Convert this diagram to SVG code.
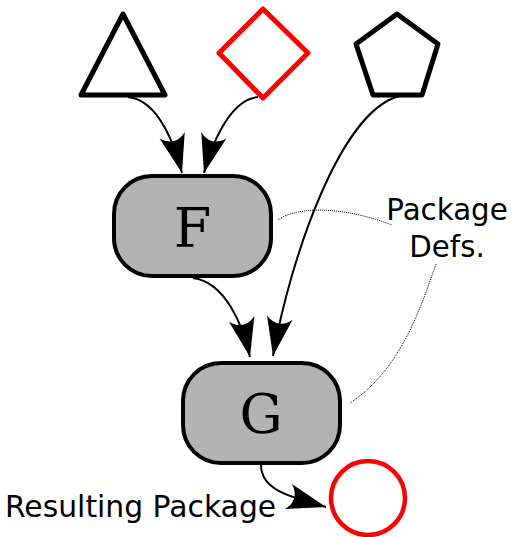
<svg xmlns="http://www.w3.org/2000/svg" width="512" height="537" viewBox="0 0 512 537">
<style>
.shape{fill:none;stroke-width:5;stroke-linejoin:round}
.box{fill:#b3b3b3;stroke:#000;stroke-width:4}
.lbl{font-family:"DejaVu Serif",serif;font-size:54px;fill:#000;text-anchor:middle}
.txt{font-family:"DejaVu Sans",sans-serif;font-size:29.3px;fill:#000}
.conn{fill:none;stroke:#000;stroke-width:2;marker-end:url(#arr)}
.dot{fill:none;stroke:#000;stroke-width:1;stroke-dasharray:1 1}
</style>
<defs>
<marker id="arr" markerUnits="userSpaceOnUse" markerWidth="50" markerHeight="40" viewBox="-40 -20 50 40" refX="0" refY="0" orient="auto" overflow="visible">
<path d="M0,0 L-39,-13 C-31,-5 -31,5 -39,13 Z" fill="#000"/>
</marker>
</defs>
<g id="triangle"><polygon class="shape" stroke="#000" points="123,14 165,95 81,95"/></g>
<g id="diamond"><polygon class="shape" stroke="#ff0000" stroke-width="4.5" points="263,9 308,53 263,98 219,53"/></g>
<g id="pentagon"><polygon class="shape" stroke="#000" points="397,14 438,44 422,95 373,95 356,44"/></g>
<g id="connectors">
<path class="conn" d="M128,97 C160,100 176,150 182,173"/>
<path class="conn" d="M258,97 C228,100 210,150 204,173"/>
<path class="conn" d="M400,96 C340,110 290,260 273,356"/>
<path class="conn" d="M193,278 C225,282 243,325 250,357"/>
<path class="conn" d="M261,465 C261,490 290,497 326,507"/>
<path class="dot" d="M278,220 C295,207 340,205 392,225"/>
<path class="dot" d="M436,264 C420,310 400,370 350,403"/>
</g>
<g id="F"><rect class="box" x="114" y="176" width="157" height="100" rx="38" ry="38"/><text class="lbl" x="192.5" y="247">F</text></g>
<g id="G"><rect class="box" x="183" y="363" width="157" height="100" rx="38" ry="38"/><text class="lbl" x="261" y="433">G</text></g>
<g id="result"><circle cx="368" cy="498" r="37" fill="none" stroke="#ff0000" stroke-width="4.5"/></g>
<g id="labels">
<text class="txt" x="447" y="220" text-anchor="middle">Package</text>
<text class="txt" x="447" y="257" text-anchor="middle">Defs.</text>
<text class="txt" x="5" y="517" style="font-size:29.8px">Resulting Package</text>
</g>
</svg>
